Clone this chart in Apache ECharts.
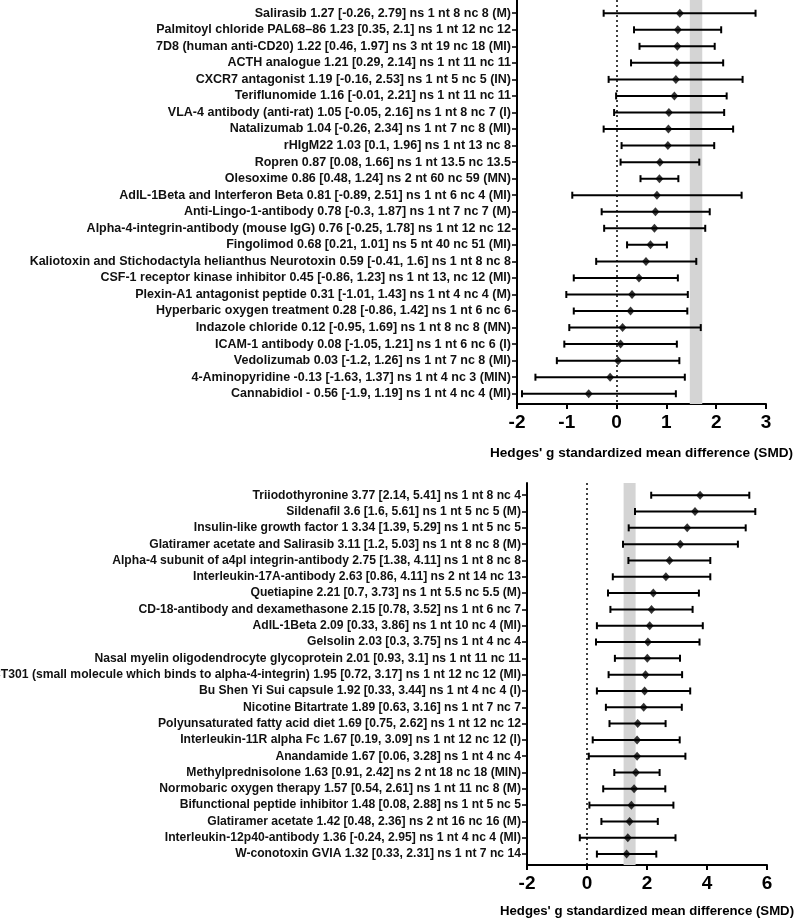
<!DOCTYPE html>
<html>
<head>
<meta charset="utf-8">
<script src="https://cdn.jsdelivr.net/npm/echarts@6/dist/echarts.min.js"></script>
<style>html,body{margin:0;padding:0;background:#fff}#c{width:795px;height:919px}</style>
</head>
<body>
<div id="c"></div>
<script>
// ---------- Top panel data ----------
const topLabels = [
  "Salirasib 1.27 [-0.26, 2.79] ns 1 nt 8 nc 8 (M)",
  "Palmitoyl chloride PAL68–86 1.23 [0.35, 2.1] ns 1 nt 12 nc 12",
  "7D8 (human anti-CD20) 1.22 [0.46, 1.97] ns 3 nt 19 nc 18 (MI)",
  "ACTH analogue 1.21 [0.29, 2.14] ns 1 nt 11 nc 11",
  "CXCR7 antagonist 1.19 [-0.16, 2.53] ns 1 nt 5 nc 5 (IN)",
  "Teriflunomide 1.16 [-0.01, 2.21] ns 1 nt 11 nc 11",
  "VLA-4 antibody (anti-rat) 1.05 [-0.05, 2.16] ns 1 nt 8 nc 7 (I)",
  "Natalizumab 1.04 [-0.26, 2.34] ns 1 nt 7 nc 8 (MI)",
  "rHIgM22 1.03 [0.1, 1.96] ns 1 nt 13 nc 8",
  "Ropren 0.87 [0.08, 1.66] ns 1 nt 13.5 nc 13.5",
  "Olesoxime 0.86 [0.48, 1.24] ns 2 nt 60 nc 59 (MN)",
  "AdIL-1Beta and Interferon Beta 0.81 [-0.89, 2.51] ns 1 nt 6 nc 4 (MI)",
  "Anti-Lingo-1-antibody 0.78 [-0.3, 1.87] ns 1 nt 7 nc 7 (M)",
  "Alpha-4-integrin-antibody (mouse IgG) 0.76 [-0.25, 1.78] ns 1 nt 12 nc 12",
  "Fingolimod 0.68 [0.21, 1.01] ns 5 nt 40 nc 51 (MI)",
  "Kaliotoxin and Stichodactyla helianthus Neurotoxin 0.59 [-0.41, 1.6] ns 1 nt 8 nc 8",
  "CSF-1 receptor kinase inhibitor 0.45 [-0.86, 1.23] ns 1 nt 13, nc 12 (MI)",
  "Plexin-A1 antagonist peptide 0.31 [-1.01, 1.43] ns 1 nt 4 nc 4 (M)",
  "Hyperbaric oxygen treatment 0.28 [-0.86, 1.42] ns 1 nt 6 nc 6",
  "Indazole chloride 0.12 [-0.95, 1.69] ns 1 nt 8 nc 8 (MN)",
  "ICAM-1 antibody 0.08 [-1.05, 1.21] ns 1 nt 6 nc 6 (I)",
  "Vedolizumab 0.03 [-1.2, 1.26] ns 1 nt 7 nc 8 (MI)",
  "4-Aminopyridine -0.13 [-1.63, 1.37] ns 1 nt 4 nc 3 (MIN)",
  "Cannabidiol - 0.56 [-1.9, 1.19] ns 1 nt 4 nc 4 (MI)"
];
const topSmd = [1.27,1.23,1.22,1.21,1.19,1.16,1.05,1.04,1.03,0.87,0.86,0.81,0.78,0.76,0.68,0.59,0.45,0.31,0.28,0.12,0.08,0.03,-0.13,-0.56];
const topLo  = [-0.26,0.35,0.46,0.29,-0.16,-0.01,-0.05,-0.26,0.1,0.08,0.48,-0.89,-0.3,-0.25,0.21,-0.41,-0.86,-1.01,-0.86,-0.95,-1.05,-1.2,-1.63,-1.9];
const topHi  = [2.79,2.1,1.97,2.14,2.53,2.21,2.16,2.34,1.96,1.66,1.24,2.51,1.87,1.78,1.01,1.6,1.23,1.43,1.42,1.69,1.21,1.26,1.37,1.19];
const topBand = [1.47, 1.72];
const topXTicks = [-2, 3, 1];

// ---------- Bottom panel data ----------
const botLabels = [
  "Triiodothyronine 3.77 [2.14, 5.41] ns 1 nt 8 nc 4",
  "Sildenafil 3.6 [1.6, 5.61] ns 1 nt 5 nc 5 (M)",
  "Insulin-like growth factor 1 3.34 [1.39, 5.29] ns 1 nt 5 nc 5",
  "Glatiramer acetate and Salirasib 3.11 [1.2, 5.03] ns 1 nt 8 nc 8 (M)",
  "Alpha-4 subunit of a4pl integrin-antibody 2.75 [1.38, 4.11] ns 1 nt 8 nc 8",
  "Interleukin-17A-antibody 2.63 [0.86, 4.11] ns 2 nt 14 nc 13",
  "Quetiapine 2.21 [0.7, 3.73] ns 1 nt 5.5 nc 5.5 (M)",
  "CD-18-antibody and dexamethasone 2.15 [0.78, 3.52] ns 1 nt 6 nc 7",
  "AdIL-1Beta 2.09 [0.33, 3.86] ns 1 nt 10 nc 4 (MI)",
  "Gelsolin 2.03 [0.3, 3.75] ns 1 nt 4 nc 4",
  "Nasal myelin oligodendrocyte glycoprotein 2.01 [0.93, 3.1] ns 1 nt 11 nc 11",
  "CT301 (small molecule which binds to alpha-4-integrin) 1.95 [0.72, 3.17] ns 1 nt 12 nc 12 (MI)",
  "Bu Shen Yi Sui capsule 1.92 [0.33, 3.44] ns 1 nt 4 nc 4 (I)",
  "Nicotine Bitartrate 1.89 [0.63, 3.16] ns 1 nt 7 nc 7",
  "Polyunsaturated fatty acid diet 1.69 [0.75, 2.62] ns 1 nt 12 nc 12",
  "Interleukin-11R alpha Fc 1.67 [0.19, 3.09] ns 1 nt 12 nc 12 (I)",
  "Anandamide 1.67 [0.06, 3.28] ns 1 nt 4 nc 4",
  "Methylprednisolone 1.63 [0.91, 2.42] ns 2 nt 18 nc 18 (MIN)",
  "Normobaric oxygen therapy 1.57 [0.54, 2.61] ns 1 nt 11 nc 8 (M)",
  "Bifunctional peptide inhibitor 1.48 [0.08, 2.88] ns 1 nt 5 nc 5",
  "Glatiramer acetate 1.42 [0.48, 2.36] ns 2 nt 16 nc 16 (M)",
  "Interleukin-12p40-antibody 1.36 [-0.24, 2.95] ns 1 nt 4 nc 4 (MI)",
  "W-conotoxin GVIA 1.32 [0.33, 2.31] ns 1 nt 7 nc 14"
];
const botSmd = [3.77,3.6,3.34,3.11,2.75,2.63,2.21,2.15,2.09,2.03,2.01,1.95,1.92,1.89,1.69,1.67,1.67,1.63,1.57,1.48,1.42,1.36,1.32];
const botLo  = [2.14,1.6,1.39,1.2,1.38,0.86,0.7,0.78,0.33,0.3,0.93,0.72,0.33,0.63,0.75,0.19,0.06,0.91,0.54,0.08,0.48,-0.24,0.33];
const botHi  = [5.41,5.61,5.29,5.03,4.11,4.11,3.73,3.52,3.86,3.75,3.1,3.17,3.44,3.16,2.62,3.09,3.28,2.42,2.61,2.88,2.36,2.95,2.31];
const botBand = [1.22, 1.62];
const botXTicks = [-2, 6, 2];

const axisName = "Hedges' g standardized mean difference (SMD)";
const FONT = "Liberation Sans, Arial, sans-serif";

function idxList(n){ const a=[]; for(let i=0;i<n;i++) a.push(i); return a; }

function xAxisCfg(gridIndex, ticks, gap, nameSize){
  return {
    type:'value', gridIndex, min:ticks[0], max:ticks[1], interval:ticks[2],
    splitLine:{show:false},
    axisLine:{show:true, onZero:false, lineStyle:{color:'#000', width:2}},
    axisTick:{show:true, length:5, lineStyle:{color:'#000', width:2}},
    axisLabel:{color:'#000', fontSize:19, fontWeight:'bold', fontFamily:FONT, margin:9},
    name:axisName, nameLocation:'middle', nameGap:gap,
    nameTextStyle:{color:'#000', fontSize:nameSize, fontWeight:'bold', fontFamily:FONT}
  };
}
function yAxisCfg(gridIndex, labels, min, max, fs){
  return {
    type:'value', gridIndex, inverse:true, min, max,
    splitLine:{show:false},
    axisLine:{show:true, onZero:false, lineStyle:{color:'#000', width:2}},
    axisTick:{show:true, length:5, customValues: idxList(labels.length), lineStyle:{color:'#000', width:1.5}},
    axisLabel:{show:true, customValues: idxList(labels.length), margin:6,
      formatter:(v)=>labels[Math.round(v)] || '',
      color:'#111', fontSize:fs, fontWeight:'bold', fontFamily:FONT}
  };
}
function errSeries(idx, lo, hi){
  return {
    type:'custom', xAxisIndex:idx, yAxisIndex:idx,
    data: lo.map((l,i)=>[l, hi[i], i]),
    renderItem:(params, api)=>{
      const p1 = api.coord([api.value(0), api.value(2)]);
      const p2 = api.coord([api.value(1), api.value(2)]);
      const h = 3.5;
      const st = {stroke:'#000', lineWidth:2};
      return {type:'group', children:[
        {type:'line', shape:{x1:p1[0],y1:p1[1],x2:p2[0],y2:p2[1]}, style:st},
        {type:'line', shape:{x1:p1[0],y1:p1[1]-h,x2:p1[0],y2:p1[1]+h}, style:st},
        {type:'line', shape:{x1:p2[0],y1:p2[1]-h,x2:p2[0],y2:p2[1]+h}, style:st}
      ]};
    },
    z:3
  };
}
function ptSeries(idx, smd, band){
  return {
    type:'scatter', xAxisIndex:idx, yAxisIndex:idx,
    data: smd.map((v,i)=>[v,i]),
    symbol:'diamond', symbolSize:[8,9],
    itemStyle:{color:'#000'}, z:4,
    markArea:{silent:true, itemStyle:{color:'#d4d4d4'}, data:[[{xAxis:band[0]},{xAxis:band[1]}]]},
    markLine:{silent:true, symbol:'none', label:{show:false},
      lineStyle:{color:'#000', type:[2,3], width:1.5}, data:[{xAxis:0}]}
  };
}

const chart = echarts.init(document.getElementById('c'), null, {renderer:'canvas'});
chart.setOption({
  backgroundColor:'#fff',
  animation:false,
  grid:[
    {left:517, top:0, width:249, height:404, containLabel:false, outerBoundsMode:'none'},
    {left:527, top:483, width:240, height:382, containLabel:false, outerBoundsMode:'none'}
  ],
  xAxis:[ xAxisCfg(0, topXTicks, 42, 13.6), xAxisCfg(1, botXTicks, 40, 13.2) ],
  yAxis:[ yAxisCfg(0, topLabels, -0.8, 23.62, 12.5), yAxisCfg(1, botLabels, -0.75, 22.67, 12.15) ],
  series:[
    errSeries(0, topLo, topHi), ptSeries(0, topSmd, topBand),
    errSeries(1, botLo, botHi), ptSeries(1, botSmd, botBand)
  ]
});
</script>
</body>
</html>
